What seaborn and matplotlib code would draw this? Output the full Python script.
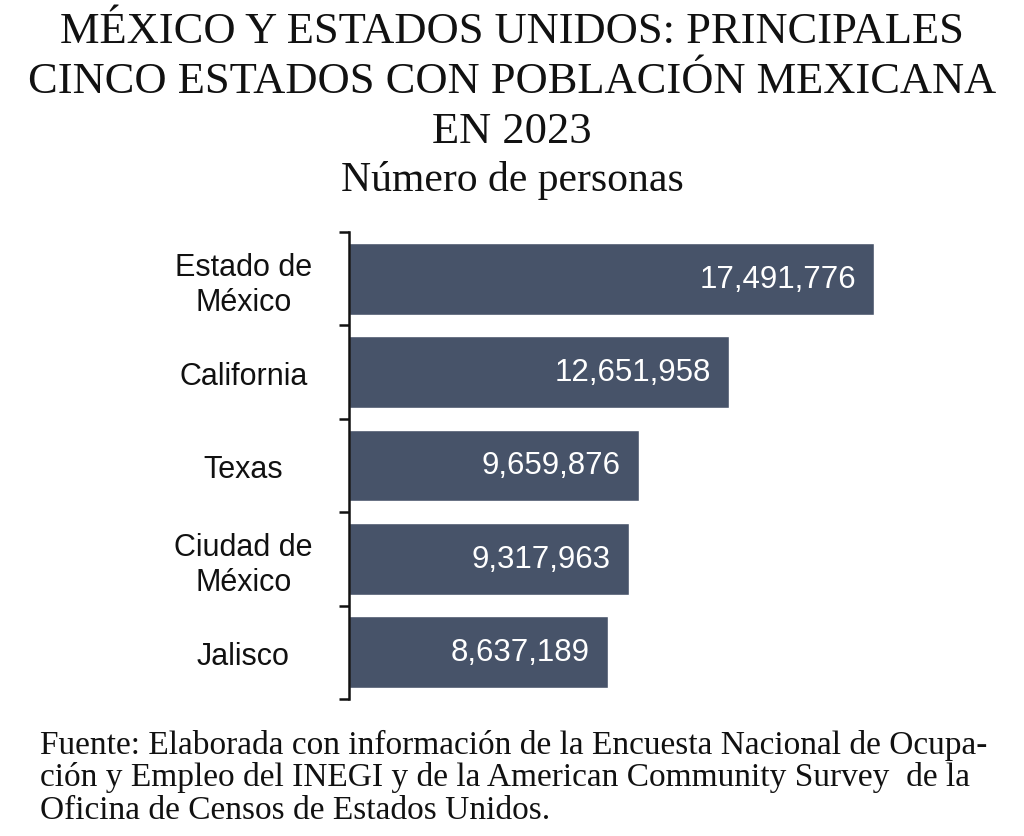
import matplotlib
matplotlib.use("Agg")
import matplotlib.pyplot as plt
import seaborn as sns
import pandas as pd

categories = ["Estado de\nMéxico", "California", "Texas", "Ciudad de\nMéxico", "Jalisco"]
values = [17491776, 12651958, 9659876, 9317963, 8637189]
value_labels = ["17,491,776", "12,651,958", "9,659,876", "9,317,963", "8,637,189"]

title = "MÉXICO Y ESTADOS UNIDOS: PRINCIPALES\nCINCO ESTADOS CON POBLACIÓN MEXICANA\nEN 2023"
subtitle = "Número de personas"
source_lines = [
    "Fuente: Elaborada con información de la Encuesta Nacional de Ocupa-",
    "ción y Empleo del INEGI y de la American Community Survey  de la",
    "Oficina de Censos de Estados Unidos.",
]

sns.set_theme(style="white")
plt.rcParams['font.family'] = ['Liberation Sans', 'DejaVu Sans']
serif = ["Liberation Serif", "DejaVu Serif"]

df = pd.DataFrame({"cat": categories, "val": values})

fig = plt.figure(figsize=(10.24, 8.37), dpi=100)
ax = fig.add_axes([349/1024, 137/837, 600/1024, 467/837])
sns.barplot(data=df, y="cat", x="val", orient="h", color="#475369",
            saturation=1, width=0.77, ax=ax)

ax.set_xlim(0, 20e6)
ax.set_ylim(len(categories) - 0.5, -0.5)
ax.set_xlabel("")
ax.set_ylabel("")
ax.set_xticks([])
for s in ["top", "right", "bottom"]:
    ax.spines[s].set_visible(False)
ax.spines["left"].set_color("#111111")
ax.spines["left"].set_linewidth(1.8)

ax.set_yticks(range(len(categories)))
ax.set_yticklabels(categories, fontsize=22, color="#111111", ha="center",
                   multialignment="center")
ax.tick_params(axis="y", which="major", left=False, length=0, pad=76)
ax.set_yticks([i - 0.5 for i in range(len(categories) + 1)], minor=True)
ax.tick_params(axis="y", which="minor", left=True, length=7, width=1.8,
               color="#111111", direction="out")

for i, (v, lab) in enumerate(zip(values, value_labels)):
    ax.text(v - 0.6e6, i, lab, ha="right", va="center", color="white", fontsize=22.5)

fig.text(0.5, 1 - 12/837, title, ha="center", va="top", fontsize=32,
         family=serif, linespacing=1.32, color="#111111")
fig.text(0.5, 1 - 181/837, subtitle, ha="center", va="center", fontsize=30,
         family=serif, color="#111111")
for k, line in enumerate(source_lines):
    fig.text(40/1024, 1 - (745 + 33*k)/837, line, ha="left", va="center", fontsize=24,
             family=serif, color="#111111")

fig.savefig("out.png", dpi=100)
